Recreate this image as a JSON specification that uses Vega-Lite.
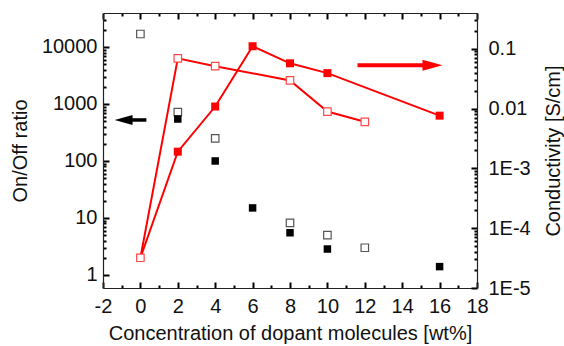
{
  "$schema": "https://vega.github.io/schema/vega-lite/v6.json",
  "width": 374,
  "height": 275,
  "autosize": "none",
  "padding": {"left": 103, "top": 13, "right": 87, "bottom": 58},
  "background": "white",
  "config": {
    "view": {"stroke": null},
    "font": "Liberation Sans"
  },
  "data": {
    "values": [
      {"series": "onoff_open", "x": 0, "value": 16900},
      {"series": "onoff_open", "x": 2, "value": 720},
      {"series": "onoff_open", "x": 4, "value": 250},
      {"series": "onoff_open", "x": 8, "value": 8.2},
      {"series": "onoff_open", "x": 10, "value": 5},
      {"series": "onoff_open", "x": 12, "value": 3.0},
      {"series": "onoff_filled", "x": 2, "value": 545},
      {"series": "onoff_filled", "x": 4, "value": 100},
      {"series": "onoff_filled", "x": 6, "value": 15},
      {"series": "onoff_filled", "x": 8, "value": 5.5},
      {"series": "onoff_filled", "x": 10, "value": 2.85},
      {"series": "onoff_filled", "x": 16, "value": 1.4},
      {"series": "cond_open", "x": 0, "value": 0.000032},
      {"series": "cond_open", "x": 2, "value": 0.069},
      {"series": "cond_open", "x": 4, "value": 0.051},
      {"series": "cond_open", "x": 8, "value": 0.0295},
      {"series": "cond_open", "x": 10, "value": 0.0089},
      {"series": "cond_open", "x": 12, "value": 0.006},
      {"series": "cond_filled", "x": 0, "value": 0.000032},
      {"series": "cond_filled", "x": 2, "value": 0.0019},
      {"series": "cond_filled", "x": 4, "value": 0.0108},
      {"series": "cond_filled", "x": 6, "value": 0.11},
      {"series": "cond_filled", "x": 8, "value": 0.057},
      {"series": "cond_filled", "x": 10, "value": 0.039},
      {"series": "cond_filled", "x": 16, "value": 0.0076},
      {"series": "arrow_black", "x": -0.9, "x2": 0.32, "value": 524},
      {"series": "arrow_red", "x": 15.62, "x2": 11.61, "value": 0.053}
    ]
  },
  "layer": [
    {
      "encoding": {
        "x": {
          "field": "x", "type": "quantitative",
          "scale": {"domain": [-2, 18], "nice": false, "zero": false},
          "axis": {
            "orient": "bottom",
            "title": "Concentration of dopant molecules [wt%]",
            "values": [-2,-1,0,1,2,3,4,5,6,7,8,9,10,11,12,13,14,15,16,17,18],
            "labelExpr": "datum.value % 2 == 0 ? '' + datum.value : ''",
            "grid": false, "domainColor": "#222", "domainWidth": 1.2,
            "ticks": true, "tickColor": "black", "tickWidth": 2,
            "tickSize": {"condition": {"test": "datum.value % 2 == 0", "value": -6}, "value": -3},
            "labelFontSize": 20, "labelColor": "#111", "labelFlush": false, "labelOverlap": false,
            "titleFontSize": 20, "titleFontWeight": "normal", "titleColor": "#111",
            "labelPadding": 14,
            "titlePadding": 4
          }
        },
        "y": {
          "field": "value", "type": "quantitative",
          "scale": {"type": "log", "domain": [0.59, 39500], "nice": false},
          "axis": {
            "orient": "left",
            "title": "On/Off ratio",
            "values": [1,2,3,4,5,6,7,8,9,10,20,30,40,50,60,70,80,90,100,200,300,400,500,600,700,800,900,1000,2000,3000,4000,5000,6000,7000,8000,9000,10000,20000,30000],
            "labelExpr": "abs(log(datum.value)/LN10 - round(log(datum.value)/LN10)) < 0.001 ? '' + datum.value : ''",
            "grid": false, "domainColor": "#222", "domainWidth": 1.2,
            "ticks": true, "tickColor": "black", "tickWidth": 2,
            "tickSize": {"condition": {"test": "abs(log(datum.value)/LN10 - round(log(datum.value)/LN10)) < 0.001", "value": -6}, "value": -3},
            "labelFontSize": 20, "labelColor": "#111", "labelFlush": false, "labelOverlap": false,
            "titleFontSize": 20, "titleFontWeight": "normal", "titleColor": "#111",
            "labelPadding": 12,
            "titlePadding": 11
          }
        }
      },
      "layer": [
        {
          "transform": [{"filter": "datum.series == 'onoff_open'"}],
          "mark": {"type": "point", "shape": "square", "size": 56, "filled": false, "stroke": "#555", "strokeWidth": 1.2, "fill": "white", "opacity": 1}
        },
        {
          "transform": [{"filter": "datum.series == 'onoff_filled'"}],
          "mark": {"type": "point", "shape": "square", "size": 56, "filled": true, "color": "#000", "opacity": 1}
        },
        {
          "transform": [{"filter": "datum.series == 'arrow_black'"}],
          "mark": {"type": "rule", "color": "#000", "strokeWidth": 3.5},
          "encoding": {"x2": {"field": "x2"}}
        },
        {
          "transform": [{"filter": "datum.series == 'arrow_black'"}],
          "mark": {"type": "point", "shape": "M-1,0L1,-0.55L1,0.55Z", "size": 324, "filled": true, "color": "#000", "opacity": 1}
        }
      ]
    },
    {
      "encoding": {
        "x": {
          "field": "x", "type": "quantitative",
          "scale": {"domain": [-2, 18], "nice": false, "zero": false},
          "axis": {
            "orient": "top",
            "title": null,
            "labels": false,
            "grid": false, "domainColor": "#222", "domainWidth": 1.2,
            "ticks": true, "tickColor": "black", "tickWidth": 2,
            "values": [-2,-1,0,1,2,3,4,5,6,7,8,9,10,11,12,13,14,15,16,17,18],
            "tickSize": {"condition": {"test": "datum.value % 2 == 0", "value": -6}, "value": -3}
          }
        },
        "y": {
          "field": "value", "type": "quantitative",
          "scale": {"type": "log", "domain": [0.00001, 0.395], "nice": false},
          "axis": {
            "orient": "right",
            "title": "Conductivity [S/cm]",
            "titleAngle": 270,
            "titleBaseline": "top",
            "values": [0.00001,0.00002,0.00003,0.00004,0.00005,0.00006,0.00007,0.00008,0.00009,0.0001,0.0002,0.0003,0.0004,0.0005,0.0006,0.0007,0.0008,0.0009,0.001,0.002,0.003,0.004,0.005,0.006,0.007,0.008,0.009,0.01,0.02,0.03,0.04,0.05,0.06,0.07,0.08,0.09,0.1,0.2,0.3],
            "labelExpr": "abs(log(datum.value)/LN10 - round(log(datum.value)/LN10)) < 0.001 ? (datum.value >= 0.01 ? '' + datum.value : '1E' + round(log(datum.value)/LN10)) : ''",
            "grid": false, "domainColor": "#222", "domainWidth": 1.2,
            "ticks": true, "tickColor": "black", "tickWidth": 2,
            "tickSize": {"condition": {"test": "abs(log(datum.value)/LN10 - round(log(datum.value)/LN10)) < 0.001", "value": -6}, "value": -3},
            "labelFontSize": 20, "labelColor": "#111", "labelFlush": false, "labelOverlap": false,
            "titleFontSize": 20, "titleFontWeight": "normal", "titleColor": "#111",
            "labelPadding": 17,
            "titlePadding": 13
          }
        }
      },
      "layer": [
        {
          "transform": [{"filter": "datum.series == 'cond_filled'"}],
          "mark": {"type": "line", "color": "#ff0000", "strokeWidth": 2}
        },
        {
          "transform": [{"filter": "datum.series == 'cond_open'"}],
          "mark": {"type": "line", "color": "#ff0000", "strokeWidth": 2}
        },
        {
          "transform": [{"filter": "datum.series == 'cond_filled' && datum.x > 0"}],
          "mark": {"type": "point", "shape": "square", "size": 64, "filled": true, "color": "#ff0000", "opacity": 1}
        },
        {
          "transform": [{"filter": "datum.series == 'cond_open'"}],
          "mark": {"type": "point", "shape": "square", "size": 56, "filled": false, "stroke": "#ff4a4a", "strokeWidth": 1.2, "fill": "white", "opacity": 1}
        },
        {
          "transform": [{"filter": "datum.series == 'arrow_red'"}],
          "mark": {"type": "rule", "color": "#ff0000", "strokeWidth": 4},
          "encoding": {"x2": {"field": "x2"}}
        },
        {
          "transform": [{"filter": "datum.series == 'arrow_red'"}],
          "mark": {"type": "point", "shape": "M1,0L-1,-0.55L-1,0.55Z", "size": 400, "filled": true, "color": "#ff0000", "opacity": 1}
        }
      ]
    }
  ],
  "resolve": {
    "scale": {"x": "independent", "y": "independent"},
    "axis": {"x": "independent", "y": "independent"}
  }
}
